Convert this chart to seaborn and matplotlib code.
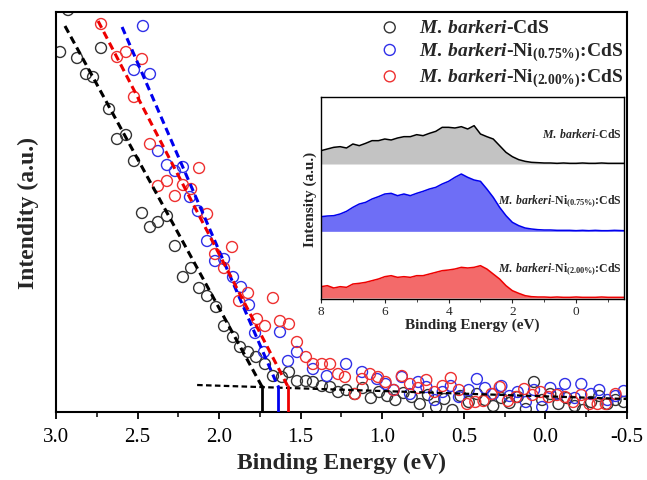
import matplotlib
matplotlib.use("Agg")
import matplotlib.pyplot as plt
import numpy as np
import pandas as pd
import seaborn as sns

# main panel: binding energy (eV) vs intensity (a.u.)
e_cds = [2.975, 2.926, 2.871, 2.816, 2.773, 2.724, 2.675, 2.626, 2.571, 2.522,
         2.473, 2.424, 2.375, 2.320, 2.271, 2.222, 2.172, 2.123, 2.074, 2.019,
         1.970, 1.915, 1.872, 1.823, 1.774, 1.719, 1.670, 1.615, 1.572, 1.523,
         1.468, 1.425, 1.370, 1.320, 1.271,
         1.22, 1.17, 1.12, 1.07, 1.02, 0.97, 0.92, 0.87, 0.82, 0.77, 0.72, 0.67,
         0.62, 0.57, 0.52, 0.47, 0.42, 0.37, 0.32, 0.27, 0.22, 0.17, 0.12, 0.07,
         0.02, -0.03, -0.08, -0.13, -0.18, -0.23, -0.28, -0.33, -0.38, -0.43, -0.48]
i_cds = [360, 402, 354, 338, 335, 364, 303, 273, 277, 251,
         199, 185, 190, 196, 166, 135, 144, 124, 116, 105,
         86, 75, 65, 60, 55, 48, 36, 35, 40, 31,
         31, 30, 26, 25, 20,
         22, 18, 24, 14, 20, 16, 12, 19, 15, 8, 17, 5,
         13, 2, 16, 10, 18, 12, 6, 14, 9, 15, 3, 30,
         12, 18, 8, 14, 6, 2, 10, 16, 8, 12, 10]

e_ni075 = [2.522, 2.467, 2.424, 2.375, 2.320, 2.271, 2.222, 2.179, 2.130, 2.074,
           2.025, 1.970, 1.915, 1.866, 1.817, 1.780, 1.725, 1.627, 1.578, 1.523,
           1.425, 1.340, 1.222, 1.124, 1.032,
           0.98, 0.93, 0.88, 0.83, 0.78, 0.73, 0.68, 0.63, 0.58, 0.53, 0.47, 0.42,
           0.37, 0.32, 0.27, 0.22, 0.17, 0.12, 0.07, 0.02, -0.03, -0.08, -0.12,
           -0.18, -0.22, -0.28, -0.33, -0.38, -0.43, -0.48]
i_ni075 = [342, 386, 338, 261, 247, 241, 245, 215, 201, 171,
           151, 153, 135, 125, 107, 79, 60, 80, 51, 60,
           43, 36, 48, 40, 33,
           28, 22, 35, 18, 30, 25, 12, 20, 26, 15, 22, 33,
           24, 18, 26, 16, 20, 10, 22, 5, 24, 18, 28,
           14, 28, 18, 22, 12, 16, 21]

e_ni200 = [2.724, 2.626, 2.571, 2.522, 2.473, 2.424, 2.375, 2.320, 2.271, 2.222,
           2.172, 2.123, 2.074, 2.025, 1.970, 1.921, 1.878, 1.823, 1.768, 1.719,
           1.670, 1.627, 1.572, 1.523, 1.468, 1.425, 1.370, 1.320, 1.271, 1.229,
           1.167, 1.124, 1.075, 1.026,
           0.98, 0.93, 0.88, 0.83, 0.78, 0.73, 0.68, 0.63, 0.58, 0.53, 0.48, 0.43,
           0.38, 0.33, 0.28, 0.23, 0.18, 0.13, 0.08, 0.03, -0.02, -0.07, -0.12,
           -0.17, -0.22, -0.27, -0.32, -0.37, -0.43]
i_ni200 = [388, 355, 360, 315, 353, 268, 226, 231, 216, 227,
           223, 244, 198, 158, 144, 165, 111, 119, 93, 86,
           114, 91, 88, 70, 55, 48, 48, 48, 38, 35,
           18, 33, 38, 35,
           30, 22, 36, 28, 24, 32, 20, 26, 34, 22, 8, 10,
           11, 18, 25, 11, 15, 23, 17, 20, 15, 17, 15,
           10, 17, 8, 8, 8, 18]

# fitted tangents (start, end) and baseline
fit_cds = ([2.945, 1.736], [386, 25])
fit_ni075 = ([2.595, 1.638], [385, 25])
fit_ni200 = ([2.742, 1.577], [391, 25])
base_fit = ([2.135, -0.5], [27, 13])
gaps = [1.736, 1.638, 1.577]

# inset: valence band spectra
e_vb = [8.0, 7.8, 7.6, 7.4, 7.2, 7.0, 6.8, 6.6, 6.4, 6.2, 6.0, 5.8, 5.6, 5.4,
        5.2, 5.0, 4.8, 4.6, 4.4, 4.2, 4.0, 3.8, 3.6, 3.4, 3.2, 3.0, 2.8, 2.6,
        2.4, 2.2, 2.0, 1.8, 1.6, 1.4, 1.2, 1.0, 0.8, 0.6, 0.4, 0.2, 0.0, -0.2,
        -0.4, -0.6, -0.8, -1.0, -1.2, -1.5]
vb_cds = [40, 45, 50, 52, 48, 60, 55, 62, 70, 70, 75, 72, 78, 82,
          82, 88, 85, 92, 98, 110, 110, 108, 112, 105, 115, 90, 82, 75,
          55, 35, 22, 13, 8, 5, 4, 3, 3, 2, 3, 2, 2, 3,
          2, 2, 3, 2, 2, 2]
vb_ni075 = [44, 46, 47, 52, 60, 72, 82, 87, 97, 104, 112, 114, 107, 112,
            107, 114, 120, 127, 132, 142, 150, 162, 172, 162, 154, 150, 127, 102,
            72, 47, 27, 17, 10, 7, 5, 4, 4, 3, 3, 3, 2, 3,
            2, 3, 2, 2, 3, 2]
vb_ni200 = [34, 37, 30, 34, 32, 42, 44, 47, 52, 57, 64, 67, 62, 64,
            62, 67, 67, 72, 77, 82, 84, 87, 92, 90, 92, 97, 87, 72,
            57, 37, 22, 14, 7, 4, 3, 3, 2, 3, 2, 2, 3, 2,
            2, 2, 3, 2, 2, 2]
vb_offsets = [405, 203, 3]

sns.set_style("ticks")
plt.rcParams["font.family"] = ["Liberation Serif", "DejaVu Serif"]
plt.rcParams["mathtext.fontset"] = "custom"
plt.rcParams["mathtext.rm"] = "Liberation Serif:bold"
plt.rcParams["mathtext.it"] = "Liberation Serif:italic:bold"
plt.rcParams["mathtext.bf"] = "Liberation Serif:bold"

labels = [r"$\mathit{M.\:barkeri}$-CdS",
          r"$\mathit{M.\:barkeri}$-Ni$_{(0.75\%)}$:CdS",
          r"$\mathit{M.\:barkeri}$-Ni$_{(2.00\%)}$:CdS"]
edge = ["#333333", "#3030e8", "#ee3030"]
line_c = ["black", "#0000ee", "#ee0000"]
fill_c = ["#c3c3c3", "#6e6ef6", "#f36a6a"]

fig = plt.figure(figsize=(6.47, 4.81), dpi=100)
ax = fig.add_axes([56 / 647, 68 / 481, 571 / 647, 400 / 481])

for e, i, lab, c in zip([e_cds, e_ni075, e_ni200], [i_cds, i_ni075, i_ni200], labels, edge):
    sns.scatterplot(x=e, y=i, ax=ax, s=62, facecolors="none", edgecolor=c,
                    linewidth=1.0, label=lab, zorder=2, clip_on=True)

for (fx, fy), c in zip([fit_cds, fit_ni075, fit_ni200], line_c):
    ax.plot(fx, fy, ls=(0, (2.5, 1.5)), color=c, lw=2.2, zorder=4)
ax.plot(base_fit[0], base_fit[1], ls=(0, (2.5, 1.5)), color="black", lw=1.6, zorder=4)
for g, c in zip(gaps, line_c):
    ax.plot([g, g], [0, 26], color=c, lw=2.0, zorder=5)

ax.set_xlim(3.0, -0.5)
ax.set_ylim(0, 400)
ax.set_xticks([3.0, 2.5, 2.0, 1.5, 1.0, 0.5, 0.0, -0.5])
ax.set_xticklabels(["3.0", "2.5", "2.0", "1.5", "1.0", "0.5", "0.0", "-0.5"])
ax.set_xticks(np.arange(-0.25, 3.0, 0.5), minor=True)
ax.set_yticks([])
ax.tick_params(axis="x", which="major", direction="out", length=5, width=1.3,
               labelsize=15, pad=6, colors="black")
ax.tick_params(axis="x", which="minor", direction="out", length=3.5, width=1.3)
for sp in ax.spines.values():
    sp.set_linewidth(1.5)
    sp.set_color("black")
ax.set_xlabel("Binding Energy (eV)", fontsize=17, fontweight="bold", labelpad=4)
ax.set_ylabel("Intendity (a.u.)", fontsize=17, fontweight="bold", labelpad=12)

leg = ax.legend(loc="upper left", bbox_to_anchor=(0.53, 1.012), frameon=False,
                prop={"weight": "bold", "size": 14}, handletextpad=0.5,
                labelspacing=0.2, borderaxespad=0.2, markerscale=1.0)

# inset
ins = fig.add_axes([321 / 647, 181 / 481, 303 / 647, 202 / 481])
for v, off, lc, fc, lab, ty in zip([vb_cds, vb_ni075, vb_ni200], vb_offsets, line_c,
                                   fill_c, labels, [495, 293, 90]):
    top = np.array(v) + off
    ins.fill_between(e_vb, off, top, color=fc, lw=0, zorder=1)
    sns.lineplot(x=e_vb, y=top, ax=ins, color=lc, lw=1.1, zorder=2)
    ins.text(-1.42, ty, lab, ha="right", va="center", fontsize=8.5, fontweight="bold")
ins.set_xlim(8, -1.5)
ins.set_ylim(0, 606)
ins.set_xticks([8, 6, 4, 2, 0])
ins.set_xticks([7, 5, 3, 1, -1], minor=True)
ins.set_yticks([])
ins.tick_params(axis="x", which="major", direction="out", length=3, labelsize=9.5, pad=1)
ins.tick_params(axis="x", which="minor", direction="out", length=2)
for sp in ins.spines.values():
    sp.set_linewidth(1.0)
    sp.set_color("black")
ins.set_xlabel("Binding Energy (eV)", fontsize=11, fontweight="bold", labelpad=1)
ins.set_ylabel("Intensity (a.u.)", fontsize=11, fontweight="bold", labelpad=3)

plt.savefig("out.png", dpi=100)
